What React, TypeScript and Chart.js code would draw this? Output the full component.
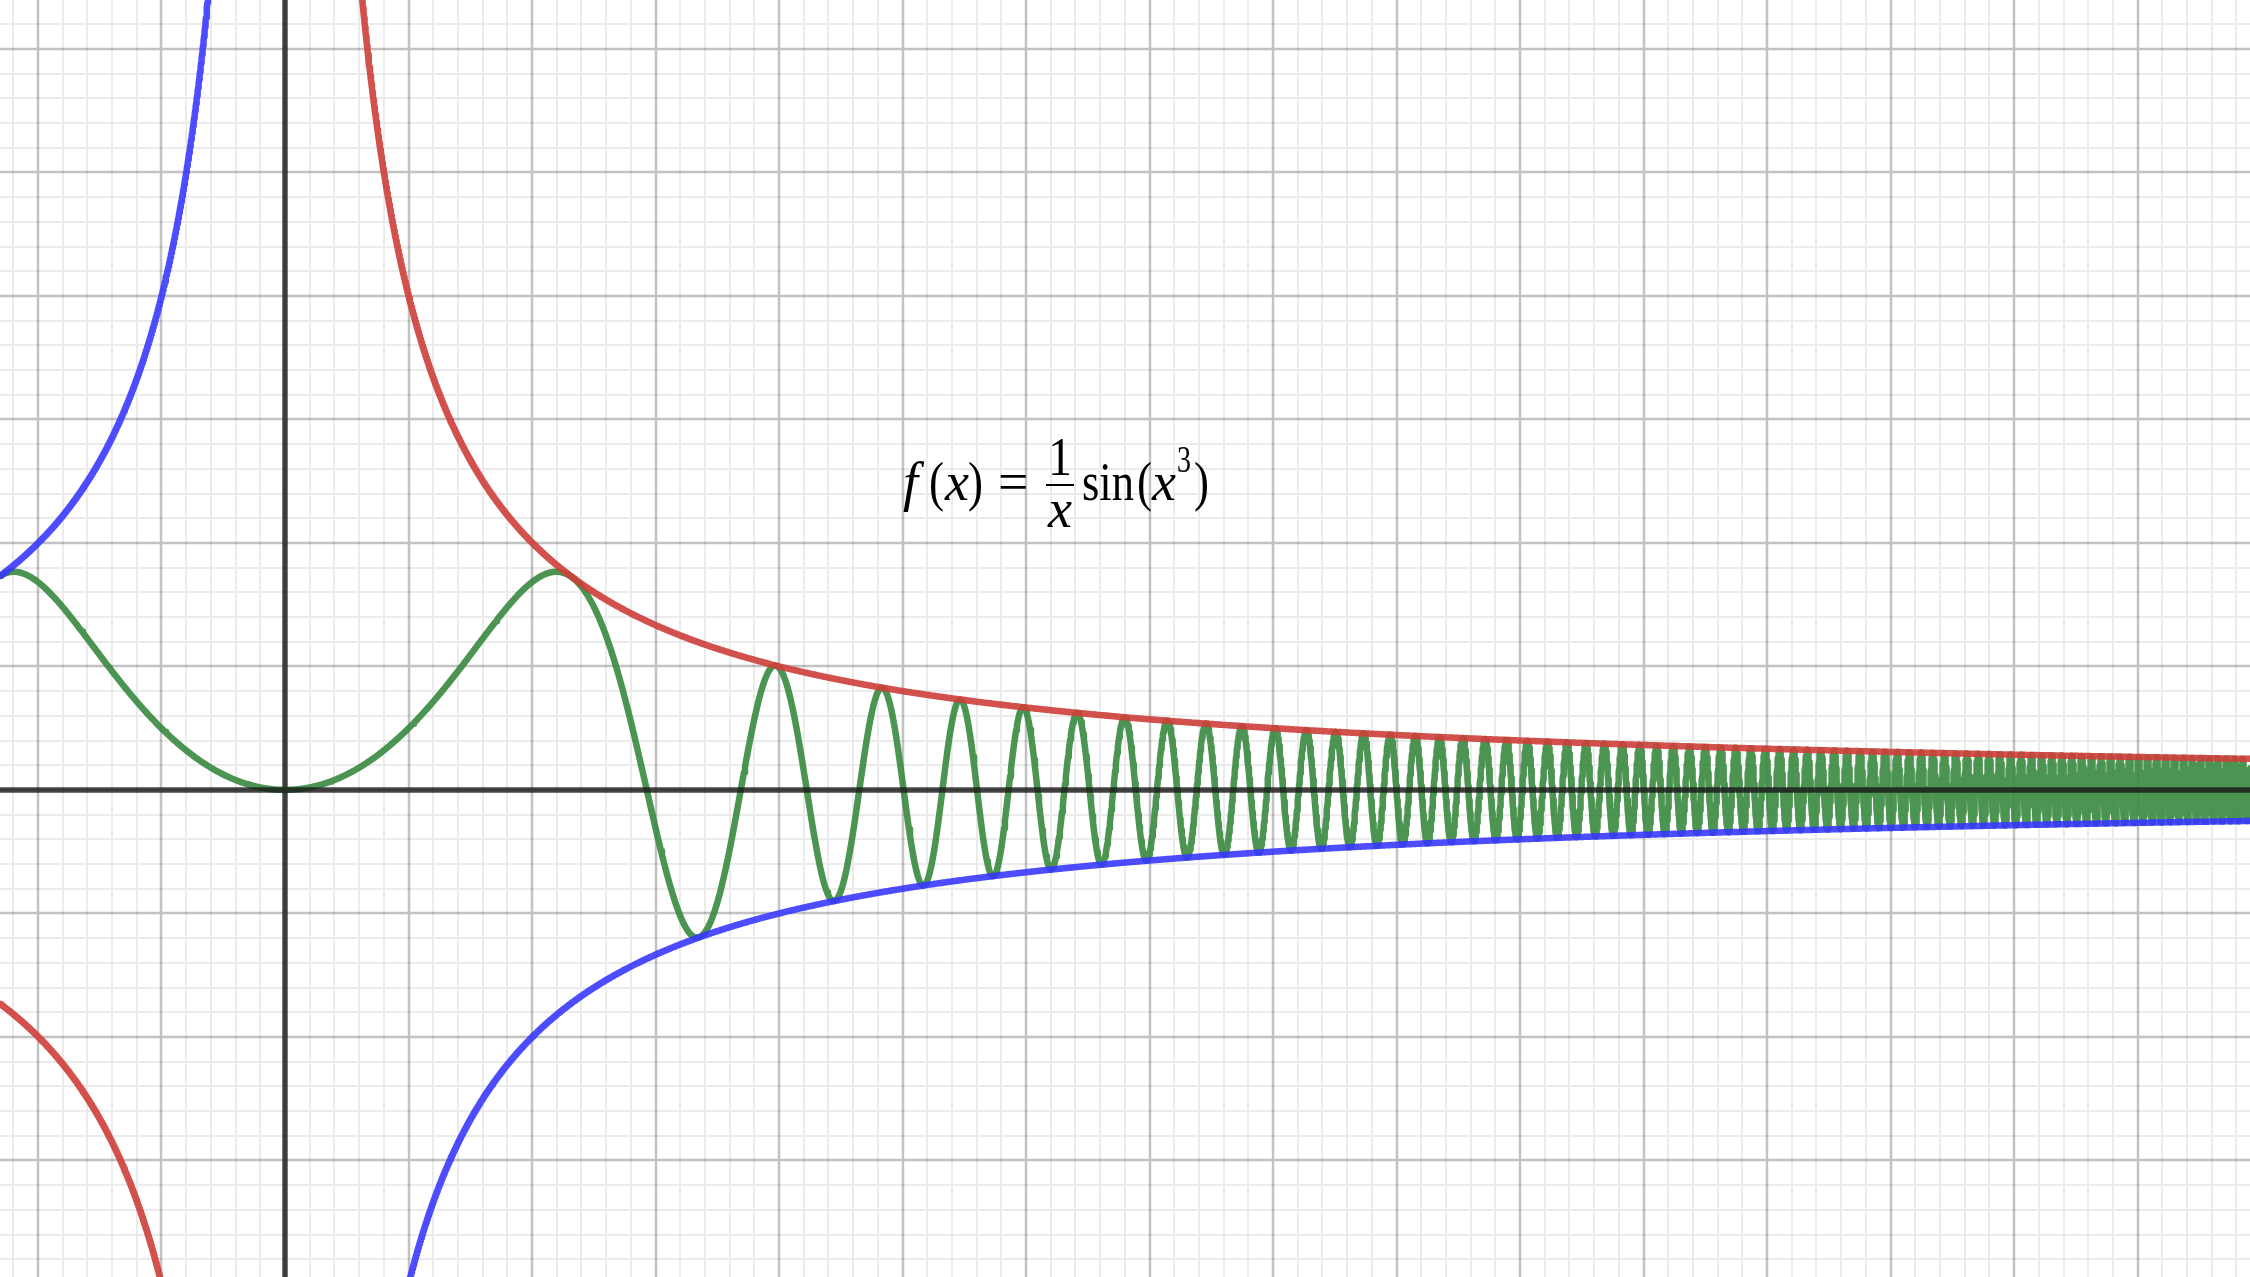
import React, { useEffect, useRef } from "react";
import { Chart, registerables } from "chart.js";

Chart.register(...registerables);

// Viewport of the graph (math units)
const xRange = [-1.1538, 7.955];
const yRange = [-1.972, 3.198];
const gridMinorStep = 0.1;
const gridMajorStep = 0.5;

// Plotted expressions: upper envelope, lower envelope, f(x)
const seriesNames = ["y = 1/x", "y = -1/x", "f(x) = sin(x^3)/x"];
const seriesColors = ["rgba(206,62,58,0.9)", "rgba(52,52,255,0.88)", "rgba(56,136,62,0.9)"];
const upper = (x: number) => 1 / x;
const lower = (x: number) => -1 / x;
const f = (x: number) => Math.sin(x * x * x) / x;

// Label text pieces
const labelMain = ["f", "(", "x", ")", "="];
const labelFrac = ["1", "x"];
const labelTail = ["sin", "(", "x", "3", ")"];

function sampleBranch(fn: (x: number) => number, a: number, b: number, step: number) {
  const pts: { x: number; y: number }[] = [];
  for (let x = a; x <= b + 1e-9; x += step) {
    const y = fn(x);
    if (Math.abs(y) < 12) pts.push({ x, y });
  }
  return pts;
}

function sampleF(a: number, b: number) {
  const pts: { x: number; y: number }[] = [];
  let x = a;
  while (x <= b) {
    const y = Math.abs(x) < 1e-9 ? 0 : f(x);
    pts.push({ x, y });
    const period = (2 * Math.PI) / Math.max(3 * x * x, 1e-6);
    x += Math.min(0.004, period / 70);
  }
  pts.push({ x: b, y: f(b) });
  return pts;
}

const gridPlugin = {
  id: "desmosGrid",
  beforeDatasetsDraw(chart: any) {
    const { ctx, chartArea, scales } = chart;
    const xs = scales.x, ys = scales.y;
    ctx.save();
    ctx.fillStyle = "#ffffff";
    ctx.fillRect(chartArea.left, chartArea.top, chartArea.right - chartArea.left, chartArea.bottom - chartArea.top);
    const drawLines = (step: number, color: string, width: number, skipMajor: boolean) => {
      ctx.strokeStyle = color;
      ctx.lineWidth = width;
      ctx.beginPath();
      for (let i = Math.ceil(xRange[0] / step); i * step <= xRange[1]; i++) {
        const v = i * step;
        if (skipMajor && Math.abs(v / gridMajorStep - Math.round(v / gridMajorStep)) < 1e-6) continue;
        const px = Math.round(xs.getPixelForValue(v));
        ctx.moveTo(px, chartArea.top);
        ctx.lineTo(px, chartArea.bottom);
      }
      for (let i = Math.ceil(yRange[0] / step); i * step <= yRange[1]; i++) {
        const v = i * step;
        if (skipMajor && Math.abs(v / gridMajorStep - Math.round(v / gridMajorStep)) < 1e-6) continue;
        const py = Math.round(ys.getPixelForValue(v));
        ctx.moveTo(chartArea.left, py);
        ctx.lineTo(chartArea.right, py);
      }
      ctx.stroke();
    };
    drawLines(gridMinorStep, "rgba(0,0,0,0.08)", 2, true);
    drawLines(gridMajorStep, "rgba(0,0,0,0.24)", 2.5, false);
    ctx.restore();
  },
  afterDatasetsDraw(chart: any) {
    const { ctx, chartArea, scales } = chart;
    const xs = scales.x, ys = scales.y;
    ctx.save();
    // axes
    ctx.strokeStyle = "rgba(25,25,25,0.8)";
    ctx.lineWidth = 5.5;
    ctx.beginPath();
    const x0 = Math.round(xs.getPixelForValue(0));
    const y0 = Math.round(ys.getPixelForValue(0));
    ctx.moveTo(x0, chartArea.top);
    ctx.lineTo(x0, chartArea.bottom);
    ctx.moveTo(chartArea.left, y0);
    ctx.lineTo(chartArea.right, y0);
    ctx.stroke();

    // label  f(x) = 1/x sin(x^3)
    const serif = "'Liberation Serif', 'DejaVu Serif', serif";
    const size = 54;
    const base = 500;
    ctx.fillStyle = "#000000";
    ctx.textBaseline = "alphabetic";
    ctx.textAlign = "left";
    const it = `italic ${size}px ${serif}`;
    const rm = `${size}px ${serif}`;
    const put = (t: string, font: string, x: number, w: number, y = base) => {
      ctx.font = font;
      ctx.fillText(t, x, y, w);
    };
    put(labelMain[0], it, 903, 28);
    put(labelMain[1], rm, 929, 15);
    put(labelMain[2], it, 945, 24);
    put(labelMain[3], rm, 968, 15);
    put(labelMain[4], rm, 998, 31);
    // fraction
    ctx.textAlign = "center";
    put(labelFrac[0], rm, 1060, 24, 475);
    put(labelFrac[1], it, 1060, 24, 527);
    ctx.fillRect(1046, 484, 28, 2);
    ctx.textAlign = "left";
    put(labelTail[0], rm, 1082, 52);
    put(labelTail[1], rm, 1137, 15);
    put(labelTail[2], it, 1152, 24);
    put(labelTail[3], `${Math.round(size * 0.68)}px ${serif}`, 1177, 14, 472);
    put(labelTail[4], rm, 1194, 15);
    ctx.restore();
  },
};

export default function App() {
  const ref = useRef<HTMLCanvasElement | null>(null);
  useEffect(() => {
    if (!ref.current) return;
    const lineDs = (label: string, data: any[], color: string) => ({
      label,
      data,
      showLine: true,
      borderColor: color,
      backgroundColor: color,
      borderWidth: 6.5,
      pointRadius: 0,
      pointHoverRadius: 0,
      tension: 0,
      fill: false,
      borderJoinStyle: "round" as const,
      borderCapStyle: "round" as const,
    });
    const chart = new Chart(ref.current, {
      type: "scatter",
      data: {
        datasets: [
          lineDs(seriesNames[0], sampleBranch(upper, xRange[0], -0.001, 0.002), seriesColors[0]),
          lineDs(seriesNames[0], sampleBranch(upper, 0.002, xRange[1], 0.002), seriesColors[0]),
          lineDs(seriesNames[1], sampleBranch(lower, xRange[0], -0.001, 0.002), seriesColors[1]),
          lineDs(seriesNames[1], sampleBranch(lower, 0.002, xRange[1], 0.002), seriesColors[1]),
          lineDs(seriesNames[2], sampleF(xRange[0], xRange[1]), seriesColors[2]),
        ],
      },
      options: {
        animation: false,
        responsive: false,
        maintainAspectRatio: false,
        events: [],
        layout: { padding: 0 },
        plugins: { legend: { display: false }, tooltip: { enabled: false }, title: { display: false } },
        scales: {
          x: { type: "linear", min: xRange[0], max: xRange[1], display: false },
          y: { type: "linear", min: yRange[0], max: yRange[1], display: false },
        },
      },
      plugins: [gridPlugin],
    });
    return () => chart.destroy();
  }, []);
  return (
    <div style={{ position: "fixed", left: 0, top: 0, width: 2250, height: 1277, background: "#fff" }}>
      <canvas ref={ref} width={2250} height={1277} style={{ display: "block", width: 2250, height: 1277 }} />
    </div>
  );
}
